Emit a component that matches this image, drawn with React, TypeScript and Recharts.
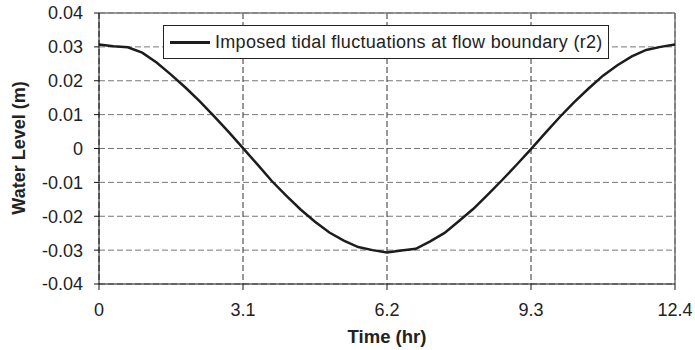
import React from 'react';
import {
  LineChart,
  Line,
  XAxis,
  YAxis,
  CartesianGrid,
  ReferenceLine,
  Legend,
} from 'recharts';

// Time (hr), every 0.31 hr
const hours = [
  0, 0.31, 0.62, 0.93, 1.24, 1.55, 1.86, 2.17, 2.48, 2.79, 3.1,
  3.41, 3.72, 4.03, 4.34, 4.65, 4.96, 5.27, 5.58, 5.89, 6.2,
  6.51, 6.82, 7.13, 7.44, 7.75, 8.06, 8.37, 8.68, 8.99, 9.3,
  9.61, 9.92, 10.23, 10.54, 10.85, 11.16, 11.47, 11.78, 12.09, 12.4,
];

// Water level (m)
const levels = [
  0.0307, 0.0302, 0.0299, 0.0283, 0.0254, 0.0218, 0.018, 0.0139, 0.0095, 0.0049, 0.0001,
  -0.0047, -0.0096, -0.0139, -0.018, -0.0216, -0.0248, -0.0272, -0.0291, -0.03, -0.0307,
  -0.0301, -0.0296, -0.0274, -0.0249, -0.0214, -0.0178, -0.0136, -0.0093, -0.0048, -0.0002,
  0.0046, 0.0093, 0.0137, 0.0177, 0.0215, 0.0246, 0.0272, 0.0291, 0.03, 0.0307,
];

const xTicks = [0, 3.1, 6.2, 9.3, 12.4];
const yTicks = [0.04, 0.03, 0.02, 0.01, 0, -0.01, -0.02, -0.03, -0.04];
const seriesName = 'Imposed tidal fluctuations at flow boundary (r2)';

const data = hours.map((t, i) => ({ t, level: levels[i] }));

const FONT = '"Liberation Sans", Arial, Helvetica, sans-serif';

const renderLegend = () => (
  <div
    style={{
      boxSizing: 'border-box',
      width: 446,
      height: 34,
      border: '1px solid #222',
      background: '#fff',
      display: 'flex',
      alignItems: 'center',
      paddingLeft: 6,
      fontFamily: FONT,
      fontSize: 18,
      color: '#222',
      whiteSpace: 'nowrap',
    }}
  >
    <span style={{ display: 'inline-block', width: 40, height: 3, background: '#1c1c1c', marginRight: 5 }} />
    <span style={{ letterSpacing: 0.3 }}>{seriesName}</span>
  </div>
);

const renderYLabel = () => (
  <text
    transform="translate(19,148) rotate(-90)"
    textAnchor="middle"
    dominantBaseline="central"
    fontFamily={FONT}
    fontSize={18}
    fontWeight="bold"
    fill="#222"
  >
    Water Level (m)
  </text>
);

const renderXLabel = () => (
  <text
    x={387}
    y={343}
    textAnchor="middle"
    fontFamily={FONT}
    fontSize={18.5}
    fontWeight="bold"
    fill="#222"
  >
    Time (hr)
  </text>
);

export default function App() {
  return (
    <div style={{ position: 'absolute', left: 0, top: 0, background: '#fff' }}>
      <LineChart width={695} height={350} data={data} margin={{ top: 13, right: 20, left: 0, bottom: 0 }}>
        <CartesianGrid vertical={false} stroke="#777" strokeDasharray="6 3" />
        <CartesianGrid horizontal={false} stroke="#333" strokeDasharray="6 3" />
        <XAxis
          dataKey="t"
          type="number"
          domain={[0, 12.4]}
          ticks={xTicks}
          height={66}
          stroke="#111"
          tickSize={6}
          tickMargin={13}
          tick={{ fontSize: 18, fontFamily: FONT, fill: '#222' }}
          label={{ content: renderXLabel }}
        />
        <YAxis
          type="number"
          domain={[-0.04, 0.04]}
          ticks={yTicks}
          width={99}
          stroke="#111"
          tickSize={5}
          tickMargin={11}
          tickFormatter={(v: number) => (v === 0 ? '0' : v.toFixed(2))}
          tick={{ fontSize: 18, fontFamily: FONT, fill: '#222' }}
          label={{ content: renderYLabel }}
        />
        <ReferenceLine x={12.4} stroke="#777" strokeWidth={1.5} />
        <ReferenceLine y={0.04} stroke="#777" strokeWidth={1.5} />
        <Legend
          content={renderLegend}
          verticalAlign="top"
          wrapperStyle={{ position: 'absolute', left: 163, top: 25, width: 0, height: 0, overflow: 'visible' }}
        />
        <Line
          type="linear"
          dataKey="level"
          name={seriesName}
          stroke="#1c1c1c"
          strokeWidth={2.5}
          dot={false}
          isAnimationActive={false}
        />
      </LineChart>
    </div>
  );
}
